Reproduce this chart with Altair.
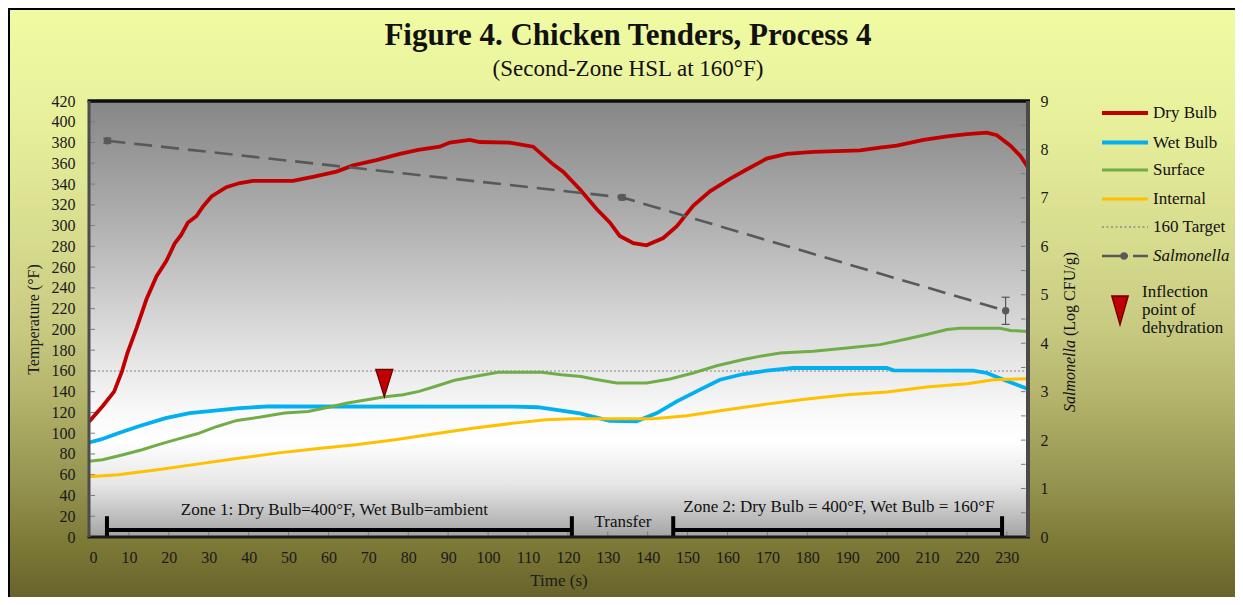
import altair as alt
import pandas as pd
import numpy as np

SERIF = "Liberation Serif"

# ---------------- data ----------------
DRY_T = [0, 3.4, 6.3, 8.3, 9.6, 11.9, 14.4, 16.9, 19.4, 21.5, 23.1, 24.8, 26.9, 28.5, 30.7,
         34.4, 37.8, 41.1, 51.1, 56.1, 62, 66.2, 72, 77.9, 82.5, 87.9, 90.4, 95.4, 97.9,
         105.4, 111.3, 116.3, 118.8, 123, 127.2, 130.5, 133, 136.4, 139.7, 143.9, 147.3,
         151.4, 155.6, 160.6, 164.8, 169.8, 174.8, 181.5, 193.2, 198.2, 202.4, 209.1, 215,
         220, 225, 227.5, 230.9, 233.4, 235.3]
DRY_V = [111, 126, 140, 160, 177, 201, 229, 251, 266, 283, 291, 303, 309, 318, 328,
         337, 341, 343, 343, 347, 352, 358, 363, 369, 373, 376, 380, 382.5, 380.5,
         380, 376, 359, 352, 335, 316, 303, 290, 283, 281, 288, 299.5,
         319, 333, 345, 354, 364.5, 369, 371, 372.5, 375, 377, 382.5, 386,
         388, 389.5, 387, 377, 367, 356]

WET_T = [0, 3, 7.3, 12.3, 19.2, 25.2, 32.1, 37.1, 45, 106.5, 112.4, 118, 123, 130.5, 137.2,
         142.3, 147.3, 153.1, 158.1, 164, 169.8, 176.5, 199.9, 201.6, 221.6, 225, 229.2,
         232.5, 235.3]
WET_V = [91, 94, 100, 106.5, 114.5, 119.4, 122, 124, 125.8, 125.5, 125, 122, 119, 112, 111.5,
         119.4, 130.6, 142, 151.5, 157, 160.2, 162.8, 162.8, 160.5, 160.2, 158, 151.5,
         146.7, 142.5]

SURF_T = [0, 3.4, 8.3, 13.3, 17.2, 22.2, 27.1, 32.1, 37.1, 43, 49, 54.9, 60.9, 64.8, 70.8,
          74.2, 78.7, 82.7, 86.7, 91.6, 96.6, 102.5, 113.4, 118.4, 123.3, 126.4, 132.2,
          139.7, 145.6, 151.4, 157.3, 164, 168, 173.2, 181.5, 189.9, 198.2, 204.9, 209.9,
          215, 218.3, 228.3, 230.9, 235.3]
SURF_V = [73, 74.5, 79, 84, 88.8, 94.3, 99.4, 106.5, 112.3, 115.5, 119.4, 121, 125.8, 129, 133,
          135, 137, 140.3, 145, 151, 154.7, 158.6, 158.6, 156.4, 154.7, 152.2, 148.4,
          148.4, 152.2, 158, 165, 171, 174, 177.3, 179, 182, 185.3, 190.8, 195,
          199.8, 201, 201, 199, 198]

INT_T = [0, 7.3, 17.2, 27.1, 37.1, 47, 56.9, 66.8, 76.7, 86.7, 96.6, 106.5, 114.4, 121.3,
         141.4, 149.8, 159.8, 169.8, 179.9, 189.9, 199.9, 209.9, 220, 226.7, 235.3]
INT_V = [58, 60, 64.7, 70.2, 75.6, 80.8, 85, 88.8, 93.6, 99.4, 105, 109.7, 113, 114,
         114, 116.8, 122.6, 128, 133, 137, 139.7, 144.5, 147.7, 151.5, 152.5]

SAL_T = [4.6, 133.6, 229.7]
SAL_V = [8.18, 7.01, 4.67]
SAL_ERR = [0.05, 0.05, 0.28]

TARGET = [160]
INFLECTION_T = [74]
INFLECTION_V = [135]

ZONE_START = [4.5, 146.4]
ZONE_END = [121, 228.8]
ZONE_BAR = [6.8, 6.8]
ZONE_CAP_TOP = 20
ZONE_TEXT = ["Zone 1: Dry Bulb=400°F, Wet Bulb=ambient", "Transfer",
             "Zone 2: Dry Bulb = 400°F, Wet Bulb = 160°F"]
ZONE_TEXT_T = [61.5, 133.8, 187.9]
ZONE_TEXT_V = [26, 14.5, 29]

X_TICKS = list(range(0, 231, 10))
T_TICKS = list(range(0, 421, 20))
S_TICKS = list(range(0, 10))

LEGEND = ["Dry Bulb", "Wet Bulb", "Surface", "Internal", "160 Target", "Salmonella"]
COLORS = {"Dry Bulb": "#C00000", "Wet Bulb": "#00B0F0", "Surface": "#70AD47",
          "Internal": "#FFC000", "160 Target": "#A0A0A0", "Salmonella": "#595959"}

# ---------------- layout ----------------
W, H = 939, 436
PAD = {"left": 81, "top": 93, "right": 207, "bottom": 60}
ONE = pd.DataFrame({"a": [0]})

XS = alt.Scale(domain=[0, 235.3], nice=False, zero=False)
AX_X = alt.Axis(values=X_TICKS, title="Time (s)", labelFontSize=16, labelPadding=12,
                tickSize=0, domain=False, grid=False, titleFontSize=17,
                titleFontWeight="normal", titlePadding=7, labelColor="#1a1a1a",
                titleColor="#1a1a1a", labelOverlap=False, zindex=1,
                labelFont=SERIF, titleFont=SERIF)
YS_T = alt.Scale(domain=[0, 420], nice=False)
AX_T = alt.Axis(values=T_TICKS, title="Temperature (°F)", orient="left", labelFontSize=16,
                labelPadding=14, tickSize=0, domain=False, grid=False, titleFontSize=16,
                titleFontWeight="normal", titlePadding=10, labelColor="#1a1a1a",
                titleColor="#1a1a1a", labelOverlap=False, zindex=1,
                labelFont=SERIF, titleFont=SERIF)
YS_S = alt.Scale(domain=[0, 9], nice=False)
AX_S = alt.Axis(values=S_TICKS, title=None, orient="right", labelFontSize=16,
                labelPadding=12, tickSize=0, domain=False, grid=False,
                labelColor="#1a1a1a", labelOverlap=False, zindex=1, labelFont=SERIF)


def X(f="t"):
    return alt.X(f"{f}:Q", scale=XS, axis=AX_X)


def YT(f="T"):
    return alt.Y(f"{f}:Q", scale=YS_T, axis=AX_T)


def YS(f="S"):
    return alt.Y(f"{f}:Q", scale=YS_S, axis=AX_S)


# ---------------- backgrounds ----------------
outer_grad = {"gradient": "linear", "x1": 0, "y1": 0, "x2": 0, "y2": 1,
              "stops": [{"offset": 0, "color": "#F0FBA2"}, {"offset": 0.2, "color": "#E7EF9B"},
                        {"offset": 0.4, "color": "#D6DB8D"}, {"offset": 0.55, "color": "#C7C981"},
                        {"offset": 0.65, "color": "#B6B66E"}, {"offset": 0.8, "color": "#969551"},
                        {"offset": 0.9, "color": "#7F7C39"}, {"offset": 1, "color": "#68632A"}]}
plot_grad = {"gradient": "linear", "x1": 0, "y1": 0, "x2": 0, "y2": 1,
             "stops": [{"offset": 0, "color": "#868686"}, {"offset": 0.25, "color": "#ABABAB"},
                       {"offset": 0.5, "color": "#D6D6D6"}, {"offset": 0.72, "color": "#FAFAFA"},
                       {"offset": 0.78, "color": "#FFFFFF"}, {"offset": 0.88, "color": "#E6E6E6"},
                       {"offset": 1, "color": "#A4A4A4"}]}

bg_outer = alt.Chart(ONE).mark_rect(fill=outer_grad).encode(
    x=alt.value(-PAD["left"]), x2=alt.value(W + PAD["right"]),
    y=alt.value(-PAD["top"]), y2=alt.value(H + PAD["bottom"]))
border_top = alt.Chart(ONE).mark_rule(color="black", strokeWidth=2).encode(
    x=alt.value(-PAD["left"]), x2=alt.value(W + PAD["right"]), y=alt.value(-PAD["top"] + 1))
border_left = alt.Chart(ONE).mark_rule(color="black", strokeWidth=2).encode(
    x=alt.value(-PAD["left"] + 1), y=alt.value(-PAD["top"]), y2=alt.value(H + PAD["bottom"]))
bg_plot = alt.Chart(ONE).mark_rect(fill=plot_grad).encode(
    x=alt.value(0), x2=alt.value(W), y=alt.value(0), y2=alt.value(H))

# ---------------- temperature layers ----------------
df_target = pd.DataFrame({"T": TARGET})
target = alt.Chart(df_target).mark_rule(color="#A6A6A6", strokeWidth=1.5,
                                         strokeDash=[2, 2]).encode(y=YT())

df_tt = pd.DataFrame({"T": T_TICKS})
t_ticks = alt.Chart(df_tt).mark_rule(color="#7a7a7a", strokeWidth=1).encode(
    y=YT(), x=alt.value(1.5), x2=alt.value(6))
df_xt = pd.DataFrame({"t": X_TICKS[1:]})
x_ticks = alt.Chart(df_xt).mark_rule(color="#7a7a7a", strokeWidth=1).encode(
    x=X(), y=alt.value(H - 1.5), y2=alt.value(H - 5.5))


def series(ts, vs, color, width):
    df = pd.DataFrame({"t": ts, "T": vs})
    return alt.Chart(df).mark_line(color=color, strokeWidth=width).encode(x=X(), y=YT())


dry = series(DRY_T, DRY_V, COLORS["Dry Bulb"], 3.8)
wet = series(WET_T, WET_V, COLORS["Wet Bulb"], 3.8)
surf = series(SURF_T, SURF_V, COLORS["Surface"], 3)
intl = series(INT_T, INT_V, COLORS["Internal"], 3)

TRI_TIP = "M-0.62,-2L0.62,-2L0,0Z"
TRI_MID = "M-0.57,-1L0.57,-1L0,1Z"
df_inf = pd.DataFrame({"t": INFLECTION_T, "T": INFLECTION_V})
inflect = alt.Chart(df_inf).mark_point(shape=TRI_TIP, size=756, filled=True, fill="#C00000",
                                       stroke="#6B0000", strokeWidth=1.3, opacity=1).encode(
    x=X(), y=YT())

df_zone = pd.DataFrame({"t": ZONE_START, "t2": ZONE_END, "T": ZONE_BAR})
zone_bars = alt.Chart(df_zone).mark_rule(color="black", strokeWidth=4).encode(
    x=X(), x2="t2:Q", y=YT())
df_caps = pd.DataFrame({"t": ZONE_START + ZONE_END, "T": [0] * 4, "T2": [ZONE_CAP_TOP] * 4})
zone_caps = alt.Chart(df_caps).mark_rule(color="black", strokeWidth=4).encode(
    x=X(), y=YT(), y2="T2:Q")
df_ztext = pd.DataFrame({"t": ZONE_TEXT_T, "T": ZONE_TEXT_V, "label": ZONE_TEXT})
zone_text = alt.Chart(df_ztext).mark_text(font=SERIF, fontSize=17, color="#111111",
                                           align="center", baseline="middle").encode(
    x=X(), y=YT(), text="label:N")

temp_layer = alt.layer(target, t_ticks, x_ticks, dry, wet, surf, intl, zone_bars, zone_caps,
                       zone_text, inflect)

# ---------------- salmonella layers ----------------
df_sal = pd.DataFrame({"t": SAL_T, "S": SAL_V,
                       "lo": np.array(SAL_V) - np.array(SAL_ERR),
                       "hi": np.array(SAL_V) + np.array(SAL_ERR)})
df_st = pd.DataFrame({"S": np.arange(0, 9.01, 0.5)})
s_ticks = alt.Chart(df_st).mark_rule(color="#7a7a7a", strokeWidth=1).encode(
    y=YS(), x=alt.value(W - 7), x2=alt.value(W - 2.5))
sal_line = alt.Chart(df_sal).mark_line(color=COLORS["Salmonella"], strokeWidth=2.6,
                                        strokeDash=[18, 9]).encode(x=X(), y=YS())
sal_err = alt.Chart(df_sal).mark_rule(color="#3f3f3f", strokeWidth=1).encode(
    x=X(), y=YS("lo"), y2="hi:Q")
sal_cap_lo = alt.Chart(df_sal).mark_rule(color="#3f3f3f", strokeWidth=1, xOffset=-4,
                                          x2Offset=4).encode(x=X(), x2="t:Q", y=YS("lo"))
sal_cap_hi = alt.Chart(df_sal).mark_rule(color="#3f3f3f", strokeWidth=1, xOffset=-4,
                                          x2Offset=4).encode(x=X(), x2="t:Q", y=YS("hi"))
sal_pts = alt.Chart(df_sal).mark_point(filled=True, size=55, color=COLORS["Salmonella"],
                                       opacity=1).encode(x=X(), y=YS())
sal_layer = alt.layer(s_ticks, sal_line, sal_err, sal_cap_lo, sal_cap_hi, sal_pts)

# ---------------- frame ----------------
frame = [
    alt.Chart(ONE).mark_rule(color="#0d0d0d", strokeWidth=3.5).encode(
        x=alt.value(-1.5), x2=alt.value(W + 2), y=alt.value(0)),
    alt.Chart(ONE).mark_rule(color="#1a1a1a", strokeWidth=3).encode(
        x=alt.value(-1.5), x2=alt.value(W + 2), y=alt.value(H)),
    alt.Chart(ONE).mark_rule(color="#4d4d4d", strokeWidth=3).encode(
        x=alt.value(0), y=alt.value(0), y2=alt.value(H)),
    alt.Chart(ONE).mark_rule(color="#4a4a4a", strokeWidth=4).encode(
        x=alt.value(W), y=alt.value(0), y2=alt.value(H)),
]


# ---------------- manual legend & texts ----------------
def txt(x, y, s, size=17, align="left", style="normal", weight="normal", angle=0,
        baseline="middle"):
    m = dict(text=s, font=SERIF, fontSize=size, align=align, baseline=baseline,
             fontStyle=style, fontWeight=weight, color="#111111")
    if angle:
        m["angle"] = angle
    return alt.Chart(ONE).mark_text(**m).encode(x=alt.value(x), y=alt.value(y))


LX1, LX2, LTX = 1013, 1059, 1064
ROWS = [12, 41.5, 69, 98, 126, 155]
WIDTHS = [4, 4, 3, 3, 1.6, 2.6]
legend = []
for name, yy, wdt in zip(LEGEND, ROWS, WIDTHS):
    mk = dict(color=COLORS[name], strokeWidth=wdt)
    if name == "160 Target":
        mk["strokeDash"] = [2, 2.5]
        mk["color"] = "#8C8C8C"
    if name == "Salmonella":
        mk["strokeDash"] = [26, 5]
    legend.append(alt.Chart(ONE).mark_rule(**mk).encode(
        x=alt.value(LX1), x2=alt.value(LX2), y=alt.value(yy)))
    legend.append(txt(LTX, yy, name, style="italic" if name == "Salmonella" else "normal"))
legend.append(alt.Chart(ONE).mark_point(filled=True, size=55, color=COLORS["Salmonella"],
                                        opacity=1).encode(x=alt.value(1035), y=alt.value(155)))
legend.append(alt.Chart(ONE).mark_point(shape=TRI_MID, size=841, filled=True, fill="#C00000",
                                        stroke="#6B0000", strokeWidth=1.3, opacity=1).encode(
    x=alt.value(1031), y=alt.value(209.5)))
for s, yy in zip(["Inflection", "point of", "dehydration"], [191, 209, 227]):
    legend.append(txt(1053, yy, s))

texts = [
    txt(539, -56, "Figure 4. Chicken Tenders, Process 4", size=31, align="center",
        weight="bold", baseline="alphabetic"),
    txt(539, -25, "(Second-Zone HSL at 160°F)", size=23, align="center",
        baseline="alphabetic"),
    txt(981, 239, "Salmonella", size=16, align="right", style="italic", angle=270),
    txt(981, 235, "(Log CFU/g)", size=16, align="left", angle=270),
]

chart = alt.layer(
    bg_outer, border_top, border_left, bg_plot, temp_layer, sal_layer, *frame, *legend, *texts
).resolve_scale(y="independent").properties(
    width=W, height=H, autosize=alt.AutoSizeParams(type="none"), padding=PAD
).configure(font=SERIF, background="#ffffff").configure_view(strokeWidth=0)

chart.save("out.html", embed_options={"renderer": "svg", "actions": False})
